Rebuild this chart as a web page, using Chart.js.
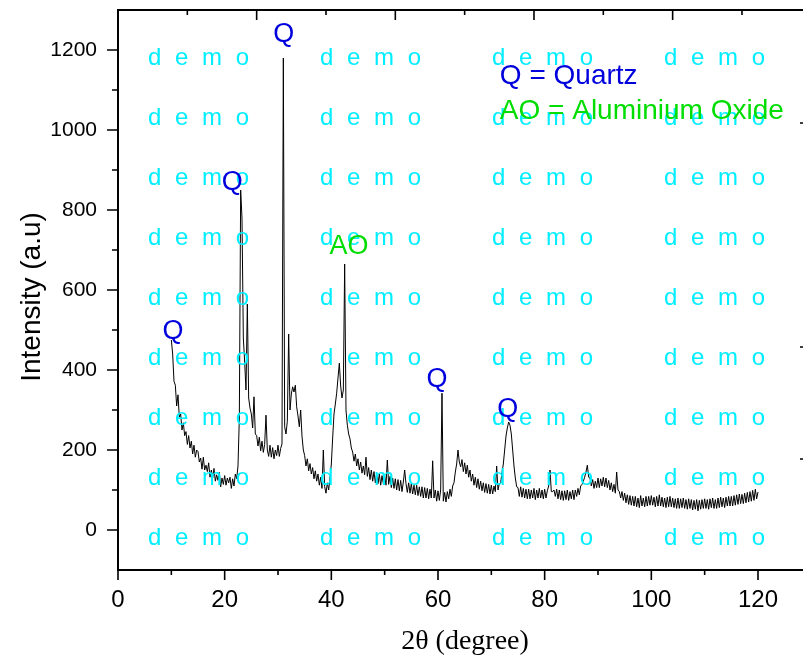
<!DOCTYPE html>
<html>
<head>
<meta charset="utf-8">
<script src="https://cdn.jsdelivr.net/npm/chart.js@4.4.1/dist/chart.umd.min.js"></script>
<style>
  html, body { margin: 0; padding: 0; background: #fff; }
  canvas { display: block; }
</style>
</head>
<body>
<canvas id="xrdChart" width="803" height="659"></canvas>
<script>
// scan grid: 2theta from 10 to 120 degree, 0.25 degree step
const scanStart = 10;
const scanStep = 0.25;

// intensity (a.u), one row = 5 degree
const intensity = [
  475, 440, 372, 362, 310, 338, 282, 290, 250, 268, 236, 246, 214, 236, 205, 222, 190, 212, 182, 200,
  196, 170, 180, 152, 182, 150, 162, 146, 168, 132, 150, 130, 154, 122, 138, 124, 144, 108, 130, 114,
  136, 112, 130, 118, 132, 104, 128, 110, 140, 128, 160, 280, 850, 780, 480, 420, 350, 565, 330, 305,
  290, 255, 333, 240, 236, 210, 232, 198, 222, 194, 214, 287, 200, 184, 212, 182, 206, 178, 200, 186,
  212, 184, 204, 215, 1180, 258, 240, 272, 490, 300, 340, 358, 345, 362, 308, 285, 258, 300, 235, 200,
  186, 160, 178, 148, 166, 140, 156, 128, 148, 122, 140, 112, 132, 104, 200, 108, 92, 118, 100, 130,
  165, 230, 290, 315, 342, 380, 417, 360, 330, 350, 665, 300, 262, 240, 228, 205, 195, 172, 190, 160,
  178, 150, 170, 142, 160, 138, 182, 134, 156, 126, 150, 122, 146, 118, 142, 116, 140, 112, 136, 116,
  136, 112, 175, 114, 134, 106, 130, 104, 128, 100, 126, 98, 124, 96, 120, 150, 116, 94, 118, 92,
  116, 90, 112, 88, 112, 86, 108, 84, 108, 80, 106, 80, 104, 78, 102, 80, 173, 80, 100, 72,
  98, 74, 100, 342, 72, 94, 70, 96, 78, 102, 84, 110, 118, 145, 165, 200, 170, 158, 176, 146,
  168, 140, 162, 132, 150, 122, 140, 112, 132, 106, 128, 102, 122, 98, 118, 94, 116, 92, 114, 90,
  112, 90, 110, 96, 160, 100, 116, 118, 144, 165, 200, 235, 255, 270, 262, 240, 200, 160, 130, 108,
  106, 84, 108, 82, 104, 80, 102, 78, 102, 78, 100, 80, 104, 76, 100, 80, 104, 80, 100, 78,
  102, 80, 98, 110, 150, 96, 96, 100, 84, 102, 78, 100, 76, 98, 74, 98, 76, 100, 74, 96,
  78, 100, 76, 100, 84, 104, 88, 110, 114, 122, 132, 145, 162, 132, 130, 110, 126, 104, 122, 106,
  130, 106, 128, 110, 132, 108, 130, 106, 124, 100, 118, 96, 114, 92, 145, 100, 96, 80, 96, 74,
  92, 68, 88, 64, 86, 62, 84, 60, 84, 58, 80, 56, 86, 60, 80, 58, 84, 60, 84, 62,
  86, 62, 82, 58, 84, 60, 88, 60, 82, 58, 80, 56, 82, 58, 84, 58, 80, 56, 78, 54,
  80, 54, 78, 56, 80, 54, 76, 52, 78, 54, 76, 50, 74, 52, 76, 48, 74, 52, 76, 54,
  78, 54, 76, 52, 78, 56, 80, 54, 76, 54, 80, 56, 82, 58, 80, 56, 82, 60, 84, 60,
  84, 60, 86, 62, 88, 64, 90, 66, 89, 66, 92, 68, 94, 70, 96, 72, 99, 74, 102, 78,
  95
];

const twoTheta = intensity.map((_, i) => scanStart + i * scanStep);

const xTicks = [0, 20, 40, 60, 80, 100, 120];
const xMinorTicks = [10, 30, 50, 70, 90, 110];
const yTicks = [0, 200, 400, 600, 800, 1000, 1200];
const yMinorTicks = [100, 300, 500, 700, 900, 1100];

// phase labels over the peaks
const peakLabels = ['Q', 'Q', 'AO', 'Q', 'Q', 'Q'];
const peakLabelX = [31.1, 21.4, 43.3, 10.3, 59.8, 73.1];
const peakLabelY = [1220, 850, 690, 478, 357, 282];
const peakLabelColors = ['#0000dd', '#0000dd', '#00dd00', '#0000dd', '#0000dd', '#0000dd'];

const keyLines = ['Q = Quartz', 'AO = Aluminium Oxide'];
const keyColors = ['#0000dd', '#00dd00'];

const SANS = "'Liberation Sans', Arial, sans-serif";
const SERIF = "'Liberation Serif', 'Times New Roman', serif";

const points = twoTheta.map((t, i) => ({ x: t, y: intensity[i] }));

const framePlugin = {
  id: 'frame',
  afterDatasetsDraw(chart) {
    const c = chart.ctx;
    const xs = chart.scales.x, ys = chart.scales.y;

    // demo watermark
    c.save();
    c.fillStyle = '#00eeff';
    c.font = '24px ' + SANS;
    c.textBaseline = 'alphabetic';
    const word = 'd e m o';
    [148, 320, 492, 664].forEach(x0 => {
      for (let r = 0; r < 9; r++) {
        let x = x0;
        for (const ch of word) {
          c.fillText(ch, x, 65 + r * 60);
          x += c.measureText(ch).width + 3.5;
        }
      }
    });
    c.restore();

    // peak labels + key
    c.save();
    c.font = '27px ' + SANS;
    c.textAlign = 'center';
    c.textBaseline = 'alphabetic';
    peakLabels.forEach((txt, i) => {
      c.fillStyle = peakLabelColors[i];
      c.fillText(txt, xs.getPixelForValue(peakLabelX[i]), ys.getPixelForValue(peakLabelY[i]));
    });
    c.font = '28px ' + SANS;
    c.textAlign = 'left';
    keyLines.forEach((txt, i) => {
      c.fillStyle = keyColors[i];
      c.fillText(txt, xs.getPixelForValue(71.6), ys.getPixelForValue(i === 0 ? 1115 : 1027));
    });
    c.restore();
  },
  afterDraw(chart) {
    const c = chart.ctx;
    const a = chart.chartArea;
    const xs = chart.scales.x, ys = chart.scales.y;
    c.save();
    c.strokeStyle = '#000';
    c.lineWidth = 2;
    c.beginPath();
    c.moveTo(a.left, a.top);
    c.lineTo(a.left, a.bottom + 1);
    c.moveTo(a.left - 1, a.bottom);
    c.lineTo(a.right, a.bottom);
    c.moveTo(a.left - 1, a.top);
    c.lineTo(a.right, a.top);
    c.stroke();

    c.lineWidth = 1.6;
    c.beginPath();
    xTicks.forEach(v => { const p = xs.getPixelForValue(v); c.moveTo(p, a.bottom); c.lineTo(p, a.bottom + 10); });
    xMinorTicks.forEach(v => { const p = xs.getPixelForValue(v); c.moveTo(p, a.bottom); c.lineTo(p, a.bottom + 5); });
    yTicks.forEach(v => { const p = ys.getPixelForValue(v); c.moveTo(a.left, p); c.lineTo(a.left - 11, p); });
    yMinorTicks.forEach(v => { const p = ys.getPixelForValue(v); c.moveTo(a.left, p); c.lineTo(a.left - 6, p); });
    // top axis ticks (inward)
    for (let k = 1; a.left + 69.33 * k < a.right; k++) {
      const p = a.left + 69.33 * k;
      c.moveTo(p, a.top);
      c.lineTo(p, a.top + (k % 2 === 0 ? 10 : 5));
    }
    // bits of the right axis ticks at the crop edge
    [123, 347, 459].forEach(p => { c.moveTo(a.right - 3, p); c.lineTo(a.right, p); });
    c.stroke();

    // axis titles
    c.fillStyle = '#000';
    c.textAlign = 'center';
    c.textBaseline = 'middle';
    c.font = '28px ' + SANS;
    c.translate(32, 297);
    c.rotate(-Math.PI / 2);
    c.fillText('Intensity (a.u)', 0, 0);
    c.restore();

    c.save();
    c.fillStyle = '#000';
    c.textAlign = 'center';
    c.textBaseline = 'alphabetic';
    c.font = '28px ' + SERIF;
    c.fillText('2\u03B8 (degree)', 465, 649);
    c.restore();
  }
};

const ctx = document.getElementById('xrdChart').getContext('2d');

const xrdChart = new Chart(ctx, {
  type: 'line',
  data: {
    datasets: [{
      data: points,
      borderColor: '#000',
      borderWidth: 1,
      pointRadius: 0,
      tension: 0,
      fill: false
    }]
  },
  options: {
    responsive: false,
    animation: false,
    devicePixelRatio: 1,
    layout: { padding: { top: 10, left: 0, right: 0, bottom: 0 } },
    plugins: { legend: { display: false }, tooltip: { enabled: false } },
    scales: {
      x: {
        type: 'linear',
        min: 0,
        max: 128.44,
        grid: { display: false, drawTicks: false },
        border: { display: false },
        afterBuildTicks: s => { s.ticks = xTicks.map(v => ({ value: v })); },
        afterFit: s => { s.height = 89; s.paddingLeft = 0; s.paddingRight = 0; },
        ticks: {
          padding: 16,
          color: '#000',
          maxRotation: 0,
          autoSkip: false,
          callback: v => String(v),
          font: { family: SANS, size: 24 }
        }
      },
      y: {
        type: 'linear',
        min: -100,
        max: 1300,
        grid: { display: false, drawTicks: false },
        border: { display: false },
        afterBuildTicks: s => { s.ticks = yTicks.map(v => ({ value: v })); },
        afterFit: s => { s.width = 118; s.paddingTop = 0; s.paddingBottom = 0; },
        ticks: {
          padding: 21,
          color: '#000',
          callback: v => String(v),
          font: { family: SANS, size: 21 }
        }
      }
    }
  },
  plugins: [framePlugin]
});
</script>
</body>
</html>
